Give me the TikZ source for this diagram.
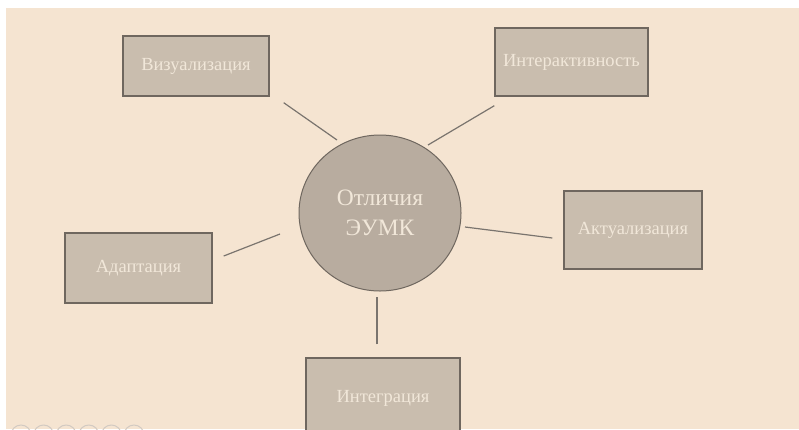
\documentclass[tikz,border=0pt]{standalone}
\usepackage{fontspec}
\setmainfont{Liberation Serif}
\usetikzlibrary{calc,shapes.geometric}
\definecolor{bgpeach}{HTML}{F5E4D1}
\definecolor{boxfill}{HTML}{C9BDAE}
\definecolor{hubfill}{HTML}{B8AC9F}
\definecolor{edgegray}{HTML}{6F675F}
\definecolor{linkgray}{HTML}{7A746E}
\definecolor{labelcream}{HTML}{F1E7D9}
\definecolor{dotgray}{HTML}{D2CAC2}
\tikzset{
  x=1pt, y=-1pt,
  featbox/.style={draw=edgegray, line width=1.4pt, fill=boxfill, inner sep=0pt,
    text=labelcream, font=\fontsize{18.5}{21}\selectfont},
  hub/.style={ellipse, draw=edgegray, line width=1pt, fill=hubfill, inner sep=0pt,
    minimum width=162pt, minimum height=156pt, text=labelcream,
    align=center, font=\fontsize{23.5}{30}\selectfont},
  link/.style={draw=linkgray, line width=1.2pt},
  navdot/.style={draw=dotgray, line width=1pt}
}
\begin{document}
\begin{tikzpicture}
  \useasboundingbox (0,0) rectangle (799,429);
  \clip (0,0) rectangle (799,429);
  % page and slide background
  \fill[white] (0,0) rectangle (799,429);
  \fill[bgpeach] (6,8) rectangle (799,429);

  % central topic
  \node[hub] (c) at (380,213) {Отличия\\ЭУМК};

  % surrounding features
  \node[featbox, minimum width=146pt, minimum height=60pt] (viz) at (196,66) {Визуализация};
  \node[featbox, minimum width=153pt, minimum height=68pt] (inter) at (571.5,62) {Интерактивность};
  \node[featbox, minimum width=138pt, minimum height=78pt] (akt) at (633,230) {Актуализация};
  \node[featbox, minimum width=147pt, minimum height=70pt] (adapt) at (138.5,268) {Адаптация};
  \node[featbox, minimum width=154pt, minimum height=80pt] (integ) at (383,398) {Интеграция};

  % connectors (free-standing, not touching the shapes)
  \draw[link] ($(viz.south east)+(14,6)$) -- ($(c.center)+(-43,-73)$);
  \draw[link] ($(inter.south west)+(0,9)$) -- ($(c.center)+(48,-68)$);
  \draw[link] ($(akt.west)+(-11,8)$) -- ($(c.center)+(85,14)$);
  \draw[link] ($(adapt.east)+(11,-12)$) -- ($(c.center)+(-100,21)$);
  \draw[link] ($(integ.north)+(-6,-13)$) -- ($(c.center)+(-3,84)$);

  % slide navigation dots
  \foreach \i in {0,...,5} {
    \draw[navdot] (21+22.6*\i,435) circle (10);
  }
\end{tikzpicture}
\end{document}
